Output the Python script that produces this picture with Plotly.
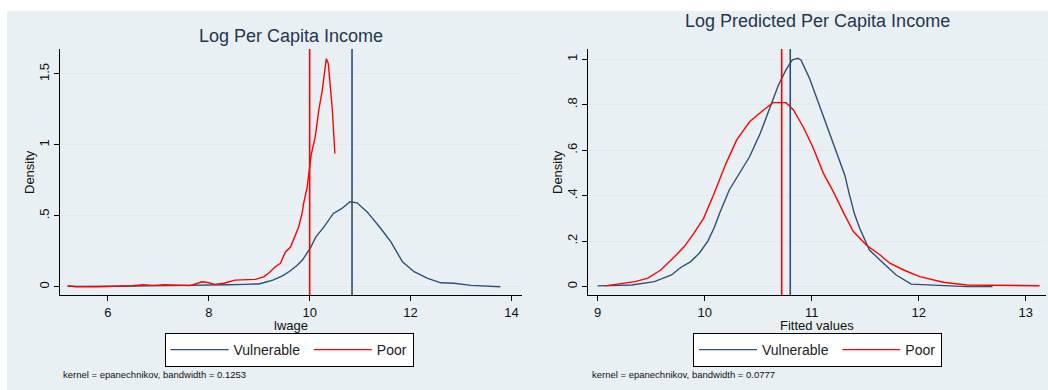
import plotly.graph_objects as go

# Kernel density estimates: log per capita income (lwage)
lw_vul_x = [5.2, 5.6, 6.0, 6.34, 6.8, 7.3, 7.8, 8.0, 8.39, 8.7, 8.99, 9.1, 9.27, 9.45, 9.59, 9.75,
            9.86, 10.02, 10.12, 10.28, 10.47, 10.64, 10.80, 10.94, 11.14, 11.41, 11.61, 11.84,
            12.07, 12.34, 12.60, 12.86, 13.2, 13.78]
lw_vul_y = [0.003, 0.002, 0.003, 0.004, 0.006, 0.007, 0.008, 0.01, 0.014, 0.017, 0.02, 0.03, 0.047,
            0.075, 0.106, 0.15, 0.19, 0.277, 0.35, 0.42, 0.517, 0.552, 0.599, 0.592, 0.528, 0.411,
            0.317, 0.176, 0.106, 0.059, 0.028, 0.025, 0.01, 0.0]

lw_poor_x = [5.2, 5.37, 5.8, 6.3, 6.5, 6.69, 6.9, 7.13, 7.4, 7.63, 7.78, 7.86, 7.98, 8.12, 8.3,
             8.52, 8.92, 9.09, 9.2, 9.32, 9.42, 9.52, 9.62, 9.72, 9.78, 9.85, 9.88, 9.95, 9.98,
             10.03, 10.11, 10.18, 10.25, 10.33, 10.37, 10.41, 10.45, 10.50]
lw_poor_y = [0.007, 0.0, 0.0, 0.003, 0.008, 0.014, 0.01, 0.014, 0.008, 0.008, 0.025, 0.035, 0.03,
             0.017, 0.025, 0.047, 0.052, 0.07, 0.1, 0.141, 0.165, 0.246, 0.28, 0.376, 0.42, 0.517,
             0.587, 0.7, 0.80, 0.93, 1.056, 1.244, 1.385, 1.608, 1.573, 1.43, 1.244, 0.94]

# Kernel density estimates: log predicted per capita income (fitted values)
fv_vul_x = [9.0, 9.32, 9.53, 9.69, 9.78, 9.87, 9.95, 10.03, 10.09, 10.14, 10.23, 10.33, 10.42,
            10.52, 10.61, 10.69, 10.76, 10.82, 10.87, 10.90, 10.98, 11.06, 11.15, 11.23, 11.31,
            11.35, 11.40, 11.45, 11.54, 11.67, 11.79, 11.93, 12.14, 12.45, 12.69]
fv_vul_y = [0.003, 0.007, 0.022, 0.051, 0.085, 0.11, 0.147, 0.2, 0.26, 0.323, 0.425, 0.505, 0.571,
            0.674, 0.791, 0.887, 0.953, 0.997, 1.004, 0.997, 0.916, 0.813, 0.703, 0.601, 0.49,
            0.41, 0.32, 0.255, 0.161, 0.103, 0.051, 0.011, 0.007, 0.0, 0.0]

fv_poor_x = [9.07, 9.19, 9.35, 9.47, 9.59, 9.72, 9.81, 9.90, 9.99, 10.08, 10.15, 10.20, 10.30,
             10.42, 10.55, 10.64, 10.76, 10.83, 10.92, 11.01, 11.11, 11.20, 11.30, 11.39, 11.51,
             11.64, 11.73, 11.86, 12.01, 12.23, 12.45, 13.13]
fv_poor_y = [0.003, 0.01, 0.022, 0.037, 0.073, 0.132, 0.176, 0.235, 0.30, 0.40, 0.484, 0.542,
             0.645, 0.725, 0.777, 0.809, 0.809, 0.777, 0.703, 0.615, 0.498, 0.42, 0.323, 0.242,
             0.183, 0.139, 0.103, 0.073, 0.044, 0.019, 0.007, 0.004]

# Group means drawn as reference lines
lw_means = {"Vulnerable": 10.84, "Poor": 10.0}
fv_means = {"Vulnerable": 10.80, "Poor": 10.72}

lw_ticks = [6, 8, 10, 12, 14]
fv_ticks = [9, 10, 11, 12, 13]
lw_yticks = [0, 0.5, 1, 1.5]
lw_ytext = ["0", ".5", "1", "1.5"]
fv_yticks = [0, 0.2, 0.4, 0.6, 0.8, 1]
fv_ytext = ["0", ".2", ".4", ".6", ".8", "1"]

NAVY = "#2c5074"
RED = "#ff0000"
BG = "#e9f0f3"
GRID = "#e2eaee"
FONT = "Liberation Sans, Arial, sans-serif"
W, H = 1048, 390

fig = go.Figure()

# a trailing no-break space widens the first legend entry
vul_label = "Vulnerable\u00a0"
fig.add_trace(go.Scatter(x=lw_vul_x, y=lw_vul_y, mode="lines", name=vul_label,
                         line=dict(color=NAVY, width=1.4), xaxis="x", yaxis="y", legend="legend"))
fig.add_trace(go.Scatter(x=lw_poor_x, y=lw_poor_y, mode="lines", name="Poor",
                         line=dict(color=RED, width=1.4), xaxis="x", yaxis="y", legend="legend"))
fig.add_trace(go.Scatter(x=fv_vul_x, y=fv_vul_y, mode="lines", name=vul_label,
                         line=dict(color=NAVY, width=1.4), xaxis="x2", yaxis="y2", legend="legend2"))
fig.add_trace(go.Scatter(x=fv_poor_x, y=fv_poor_y, mode="lines", name="Poor",
                         line=dict(color=RED, width=1.4), xaxis="x2", yaxis="y2", legend="legend2"))

shapes = [dict(type="rect", xref="paper", yref="paper", x0=7 / W, x1=1, y0=0, y1=1 - 11 / H,
               fillcolor=BG, line=dict(width=0), layer="below")]
for name, xv in lw_means.items():
    shapes.append(dict(type="line", xref="x", yref="y domain", x0=xv, x1=xv, y0=0, y1=1,
                       line=dict(color=NAVY if name == "Vulnerable" else RED, width=1.6)))
for name, xv in fv_means.items():
    shapes.append(dict(type="line", xref="x2", yref="y2 domain", x0=xv, x1=xv, y0=0, y1=1,
                       line=dict(color=NAVY if name == "Vulnerable" else RED, width=1.6)))

ydom = [1 - 295 / H, 1 - 49 / H]
x1dom = [60 / W, 521.5 / W]
x2dom = [588 / W, 1046 / W]

axis_common = dict(showline=True, linecolor="#000000", linewidth=1.2, ticks="outside",
                   ticklen=5, tickcolor="#000000", tickfont=dict(size=13, color="#111111"),
                   zeroline=False)


def label(text, x, y, size, color="#111111", xanchor="center", angle=0):
    return dict(text=text, x=x / W, y=1 - y / H, xref="paper", yref="paper", showarrow=False,
                font=dict(size=size, color=color), xanchor=xanchor, yanchor="middle",
                textangle=angle)


ann = [
    label("Log Per Capita Income", 290.5, 36, 18, "#24364f"),
    label("Log Predicted Per Capita Income", 817, 21, 18, "#24364f"),
    label("lwage", 290.5, 325, 13),
    label("Fitted values", 817, 325, 13),
    label("Density", 29, 172, 13, angle=-90),
    label("Density", 557, 172, 13, angle=-90),
    label("kernel = epanechnikov, bandwidth = 0.1253", 61, 374, 9.5, xanchor="left"),
    label("kernel = epanechnikov, bandwidth = 0.0777", 590, 374, 9.5, xanchor="left"),
]

legend_style = dict(orientation="h", bgcolor="#ffffff", bordercolor="#000000", borderwidth=1,
                    font=dict(size=14, color="#222222"), xanchor="center", yanchor="middle",
                    itemwidth=58)

fig.update_layout(
    width=W, height=H, margin=dict(l=0, r=0, t=0, b=0),
    paper_bgcolor="#ffffff", plot_bgcolor="#ffffff",
    font=dict(family=FONT, color="#111111"),
    xaxis=dict(domain=x1dom, range=[5.05, 14.2], tickvals=lw_ticks, anchor="y",
               showgrid=False, **axis_common),
    yaxis=dict(domain=ydom, range=[-0.058, 1.676], tickvals=lw_yticks, ticktext=lw_ytext,
               tickangle=-90, anchor="x", showgrid=True, gridcolor=GRID, gridwidth=1.2,
               **axis_common),
    xaxis2=dict(domain=x2dom, range=[8.91, 13.19], tickvals=fv_ticks, anchor="y2",
                showgrid=False, **axis_common),
    yaxis2=dict(domain=ydom, range=[-0.037, 1.045], tickvals=fv_yticks, ticktext=fv_ytext,
                tickangle=-90, anchor="x2", showgrid=True, gridcolor=GRID, gridwidth=1.2,
                **axis_common),
    legend=dict(x=289 / W, y=1 - 350 / H, **legend_style),
    legend2=dict(x=817.5 / W, y=1 - 350 / H, **legend_style),
    shapes=shapes,
    annotations=ann,
)

fig.write_html("out.html")
